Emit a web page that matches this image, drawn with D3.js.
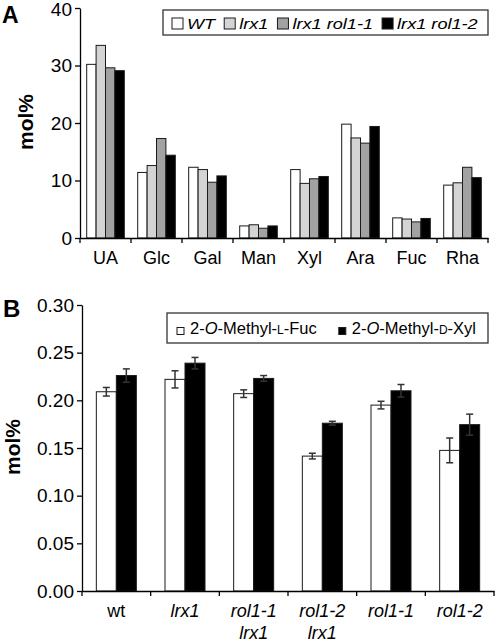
<!DOCTYPE html>
<html><head><meta charset="utf-8">
<script src="https://cdn.jsdelivr.net/npm/d3@7"></script>
<style>
body{margin:0;background:#fff}
svg{display:block}
text{font-family:"Liberation Sans",Arial,sans-serif;fill:#000}
</style>
</head><body><script>
// ---------- Data: panel A ----------
const sugars = ["UA","Glc","Gal","Man","Xyl","Ara","Fuc","Rha"];
const genotypesA = ["WT","lrx1","lrx1 rol1-1","lrx1 rol1-2"];
const valWT    = [30.2,11.4,12.3,2.1,11.9,19.8,3.5,9.2];
const valLrx1  = [33.5,12.6,11.9,2.3,9.5,17.4,3.3,9.6];
const valRol11 = [29.6,17.3,9.7,1.7,10.3,16.5,2.8,12.3];
const valRol12 = [29.1,14.4,10.8,2.1,10.7,19.4,3.4,10.5];
const ticksA = [0,10,20,30,40];

// ---------- Data: panel B ----------
const genotypesB = ["wt","lrx1","rol1-1 lrx1","rol1-2 lrx1","rol1-1","rol1-2"];
const fucMean = [0.209,0.222,0.207,0.1415,0.195,0.1475];
const fucErr  = [0.0045,0.009,0.004,0.003,0.004,0.013];
const xylMean = [0.226,0.239,0.223,0.176,0.210,0.1745];
const xylErr  = [0.007,0.006,0.003,0.002,0.0066,0.011];
const ticksB = [0,0.05,0.10,0.15,0.20,0.25,0.30];

const svg = d3.select("body").append("svg").attr("width",498).attr("height",644);

// ================= Panel A =================
const colorsA = d3.scaleOrdinal().domain(genotypesA).range(["#ffffff","#d4d4d4","#a2a2a2","#000000"]);
const xA = d3.scaleBand().domain(sugars).range([80,488]);
const groupWA = 37.6;
const subA = d3.scaleBand().domain(genotypesA).range([0,groupWA]);
const yA = d3.scaleLinear().domain([0,40]).range([238,8]);
const seriesA = [valWT,valLrx1,valRol11,valRol12];
const gA = svg.append("g");

genotypesA.forEach((g,i)=>{
  gA.append("g").selectAll("rect")
    .data(sugars.map((s,j)=>({s, v: seriesA[i][j]})))
    .join("rect")
    .attr("x", d => xA(d.s) + (xA.bandwidth()-groupWA)/2 + subA(g))
    .attr("y", d => yA(d.v))
    .attr("width", subA.bandwidth())
    .attr("height", d => yA(0)-yA(d.v))
    .attr("fill", colorsA(g))
    .attr("stroke","#1a1a1a").attr("stroke-width",1);
});

const yAxA = gA.append("g").attr("transform","translate(80,0)")
  .call(d3.axisLeft(yA).tickValues(ticksA).tickSize(5).tickPadding(3).tickSizeOuter(0));
yAxA.selectAll("text").style("font-size","19px");
yAxA.selectAll(".tick text").filter(d=>d===40).attr("dy","0.42em");
const xAxA = gA.append("g").attr("transform","translate(0,238)")
  .call(d3.axisBottom(xA).tickSize(0).tickPadding(13).tickSizeOuter(0));
xAxA.selectAll("text").style("font-size","18px");
// boundary ticks
const bndA = sugars.map(s=>xA(s)).concat([xA.range()[1]]);
gA.append("g").selectAll("line").data(bndA).join("line")
  .attr("x1",d=>d).attr("x2",d=>d).attr("y1",238).attr("y2",243)
  .attr("stroke","#000").attr("stroke-width",1.3);
[yAxA,xAxA].forEach(a=>{a.selectAll("path,line").attr("stroke","#000").attr("stroke-width",1.3);a.selectAll("text").attr("fill","#000");});

gA.append("text").attr("x",2).attr("y",23).style("font-size","23px").style("font-weight","bold").text("A");
gA.append("text").attr("transform","translate(33,122) rotate(-90)").attr("text-anchor","middle")
  .style("font-size","21px").style("font-weight","bold").text("mol%");

// legend A
const legA = gA.append("g");
legA.append("rect").attr("x",163).attr("y",10).attr("width",325).attr("height",25)
  .attr("fill","#fff").attr("stroke","#333").attr("stroke-width",1.3);
let lx = 172;
genotypesA.forEach(g=>{
  legA.append("rect").attr("x",lx).attr("y",18).attr("width",11).attr("height",11)
    .attr("fill",colorsA(g)).attr("stroke","#1a1a1a").attr("stroke-width",1);
  const t = legA.append("text").attr("x",lx+15).attr("y",28.5)
    .style("font-size","15.5px").style("font-style","italic").text(g);
  const w = t.node().getComputedTextLength()*1.17;
  t.attr("textLength", w).attr("lengthAdjust","spacingAndGlyphs");
  lx += 15 + w + 9;
});

// ================= Panel B =================
const xB = d3.scaleBand().domain(genotypesB).range([82,494]);
const groupWB = 40;
const subB = d3.scaleBand().domain(["fuc","xyl"]).range([0,groupWB]);
const yB = d3.scaleLinear().domain([0,0.30]).range([591,305]);
const gB = svg.append("g");
const seriesB = [
  {k:"fuc", mean: fucMean, err: fucErr, fill:"#ffffff"},
  {k:"xyl", mean: xylMean, err: xylErr, fill:"#000000"}
];
seriesB.forEach(sr=>{
  const data = genotypesB.map((g,j)=>({g, m: sr.mean[j], e: sr.err[j]}));
  const bx = d => xB(d.g) + (xB.bandwidth()-groupWB)/2 + subB(sr.k);
  gB.append("g").selectAll("rect").data(data).join("rect")
    .attr("x", bx).attr("y", d=>yB(d.m))
    .attr("width", subB.bandwidth()).attr("height", d=>yB(0)-yB(d.m))
    .attr("fill", sr.fill).attr("stroke","#1a1a1a").attr("stroke-width",1);
  const eg = gB.append("g").attr("stroke","#333").attr("stroke-width",1.5);
  data.forEach(d=>{
    const cx = bx(d) + subB.bandwidth()/2;
    eg.append("line").attr("x1",cx).attr("x2",cx).attr("y1",yB(d.m-d.e)).attr("y2",yB(d.m+d.e));
    eg.append("line").attr("x1",cx-3.5).attr("x2",cx+3.5).attr("y1",yB(d.m+d.e)).attr("y2",yB(d.m+d.e));
    eg.append("line").attr("x1",cx-3.5).attr("x2",cx+3.5).attr("y1",yB(d.m-d.e)).attr("y2",yB(d.m-d.e));
  });
});

const yAxB = gB.append("g").attr("transform","translate(82,0)")
  .call(d3.axisLeft(yB).tickValues(ticksB).tickFormat(d3.format(".2f")).tickSize(5).tickPadding(3).tickSizeOuter(0));
yAxB.selectAll("text").style("font-size","19px");
const xAxB = gB.append("g").attr("transform","translate(0,591)")
  .call(d3.axisBottom(xB).tickSize(0).tickFormat("").tickSizeOuter(0));
const bndB = genotypesB.map(s=>xB(s)).concat([xB.range()[1]]);
gB.append("g").selectAll("line").data(bndB).join("line")
  .attr("x1",d=>d).attr("x2",d=>d).attr("y1",591).attr("y2",596)
  .attr("stroke","#000").attr("stroke-width",1.3);
[yAxB,xAxB].forEach(a=>{a.selectAll("path,line").attr("stroke","#000").attr("stroke-width",1.3);a.selectAll("text").attr("fill","#000");});

// category labels (two lines)
genotypesB.forEach(g=>{
  const parts = g.split(" ");
  const t = gB.append("text").attr("text-anchor","middle").style("font-size","18px")
    .style("font-style", g==="wt" ? "normal" : "italic");
  parts.forEach((p,i)=>{
    t.append("tspan").attr("x", xB(g)+xB.bandwidth()/2).attr("y", 617 + i*22).text(p);
  });
});

gB.append("text").attr("x",3).attr("y",317).style("font-size","24px").style("font-weight","bold").text("B");
gB.append("text").attr("transform","translate(20,447) rotate(-90)").attr("text-anchor","middle")
  .style("font-size","21px").style("font-weight","bold").text("mol%");

// legend B
const legB = gB.append("g");
legB.append("rect").attr("x",167).attr("y",313).attr("width",321).attr("height",30)
  .attr("fill","#fff").attr("stroke","#333").attr("stroke-width",1.3);
const legItemsB = [
  {fill:"#ffffff", parts:[["2-",null],["O","italic"],["-Methyl-",null],["L","sc"],["-Fuc",null]]},
  {fill:"#000000", parts:[["2-",null],["O","italic"],["-Methyl-",null],["D","sc"],["-Xyl",null]]}
];
let bx2 = 177;
legItemsB.forEach(it=>{
  legB.append("rect").attr("x",bx2).attr("y",327.5).attr("width",7).attr("height",7)
    .attr("fill",it.fill).attr("stroke","#1a1a1a").attr("stroke-width",1);
  const t = legB.append("text").attr("x",bx2+13).attr("y",333.5).style("font-size","16.5px");
  it.parts.forEach(([s,st])=>{
    const sp = t.append("tspan").text(s);
    if(st==="italic") sp.style("font-style","italic");
    if(st==="sc") sp.style("font-size","12px");
  });
  bx2 += 13 + t.node().getComputedTextLength() + 22;
});
</script></body></html>
